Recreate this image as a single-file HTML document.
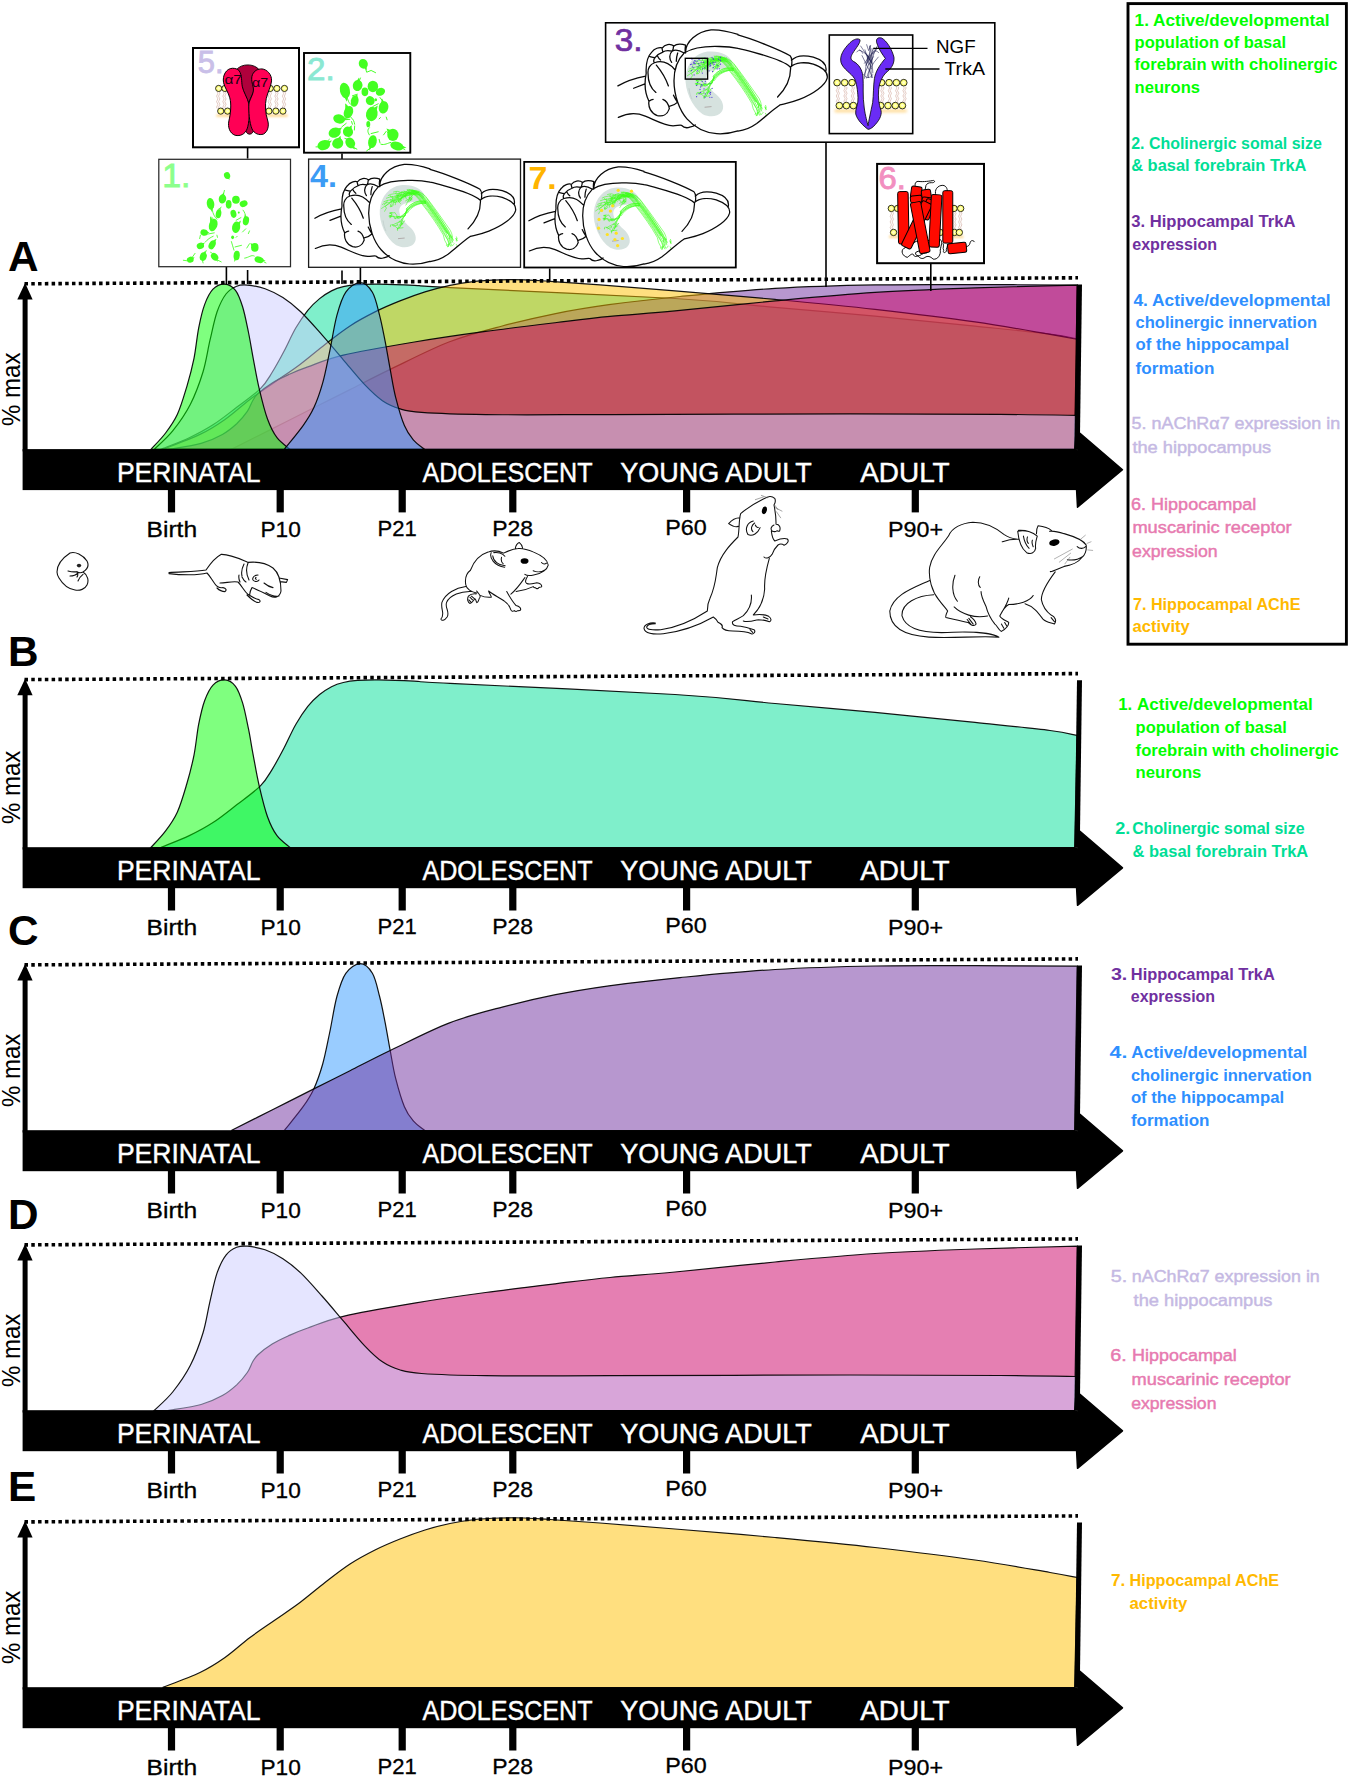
<!DOCTYPE html>
<html><head><meta charset="utf-8"><title>Cholinergic development timeline</title>
<style>html,body{margin:0;padding:0;background:#fff}svg{display:block}text{font-family:"Liberation Sans",sans-serif}</style></head><body>
<svg width="1350" height="1782" viewBox="0 0 1350 1782">
<rect width="1350" height="1782" fill="#fff"/>
<defs><path id="c1" d="M150.9,-0.0C153.3,-2.7 161.2,-10.5 165.6,-16.4C170.0,-22.2 173.8,-27.3 177.4,-35.1C181.0,-42.9 184.1,-53.8 186.9,-63.1C189.7,-72.5 192.0,-81.4 194.0,-91.1C196.0,-100.9 196.9,-112.6 198.7,-121.6C200.5,-130.6 202.3,-138.6 204.7,-145.0C207.1,-151.4 209.7,-156.8 213.0,-160.2C216.3,-163.6 221.1,-165.5 224.8,-165.3C228.6,-165.1 232.5,-162.8 235.5,-159.0C238.5,-155.2 240.4,-149.6 242.6,-142.6C244.8,-135.6 246.7,-125.5 248.5,-116.9C250.3,-108.3 251.4,-100.5 253.2,-91.1C255.0,-81.8 256.8,-70.9 259.2,-60.8C261.6,-50.6 264.5,-38.5 267.5,-30.4C270.5,-22.2 273.2,-16.8 277.0,-11.7C280.8,-6.7 287.8,-2.0 290.0,-0.0Z"/><path id="c2" d="M160.8,-0.0C165.6,-2.0 180.6,-7.6 189.3,-11.7C198.0,-15.8 205.1,-19.5 213.0,-24.6C220.9,-29.6 228.8,-36.1 236.7,-42.1C244.6,-48.1 254.5,-54.9 260.4,-60.8C266.3,-66.6 268.3,-70.9 272.2,-77.1C276.1,-83.4 280.1,-90.7 284.0,-98.1C287.9,-105.6 291.9,-114.8 295.9,-121.6C299.9,-128.4 303.9,-134.2 307.8,-139.1C311.8,-143.9 315.7,-147.6 319.6,-150.8C323.6,-154.0 327.6,-156.5 331.5,-158.5C335.4,-160.5 339.0,-161.7 343.3,-162.7C347.6,-163.8 351.6,-164.4 357.5,-164.8C363.4,-165.2 369.4,-165.4 378.9,-165.3C388.4,-165.2 402.5,-164.7 414.4,-164.1C426.2,-163.5 406.6,-164.0 450.0,-161.8C493.4,-159.6 620.8,-154.2 675.0,-150.9C729.2,-147.6 741.7,-145.0 775.0,-142.0C808.3,-139.1 841.7,-136.3 875.0,-133.2C908.3,-130.0 945.8,-126.3 975.0,-123.3C1004.2,-120.3 1033.0,-117.5 1050.0,-115.4C1067.0,-113.3 1072.7,-111.3 1077.2,-110.5L1074.6,0Z"/><path id="c3" d="M231.3,0.0C238.1,-3.4 258.2,-13.6 272.0,-20.5C285.8,-27.4 300.8,-35.1 313.8,-41.6C326.8,-48.1 337.3,-53.4 350.0,-59.8C362.7,-66.2 373.7,-72.1 390.2,-80.0C406.7,-87.9 430.2,-100.2 448.9,-107.4C467.6,-114.6 484.4,-118.7 502.2,-123.4C520.0,-128.1 537.8,-132.2 555.6,-135.8C573.4,-139.4 588.2,-141.8 608.9,-144.7C629.6,-147.5 652.3,-150.2 680.0,-152.9C707.7,-155.6 742.5,-159.1 775.0,-161.0C807.5,-162.9 841.7,-163.9 875.0,-164.5C908.3,-165.1 941.3,-164.8 975.0,-164.8C1008.7,-164.8 1060.2,-164.4 1077.2,-164.3L1074.6,0Z"/><path id="c4" d="M284.3,0.0C287.4,-4.0 298.2,-16.9 303.1,-23.8C308.0,-30.7 310.5,-34.5 313.8,-41.6C317.1,-48.7 320.0,-57.0 322.7,-66.5C325.4,-76.0 327.4,-87.2 329.8,-98.5C332.2,-109.8 334.2,-124.2 336.9,-134.0C339.6,-143.8 341.9,-151.7 345.8,-157.2C349.7,-162.7 355.6,-166.8 360.0,-166.8C364.4,-166.8 369.1,-162.7 372.4,-157.2C375.7,-151.7 377.5,-142.0 379.6,-134.0C381.7,-126.0 383.1,-118.2 384.9,-109.2C386.7,-100.2 388.4,-89.5 390.2,-80.0C392.0,-70.5 393.2,-61.7 395.6,-52.3C398.0,-42.9 401.4,-30.9 404.4,-23.8C407.3,-16.7 409.9,-13.6 413.3,-9.6C416.7,-5.6 422.8,-1.6 424.7,0.0Z"/><path id="c5" d="M154.2,0.0C157.3,-3.1 166.7,-11.0 172.7,-18.5C178.7,-26.0 185.4,-35.4 190.4,-45.2C195.4,-55.0 199.6,-66.5 202.9,-77.2C206.2,-87.9 207.6,-99.1 210.0,-109.2C212.4,-119.3 214.4,-129.9 217.1,-137.6C219.8,-145.3 222.7,-151.1 226.0,-155.4C229.3,-159.7 233.1,-161.7 236.7,-163.2C240.2,-164.7 242.6,-164.7 247.3,-164.3C252.0,-163.9 259.2,-162.8 265.1,-160.7C271.0,-158.6 277.0,-155.7 282.9,-151.8C288.8,-148.0 294.2,-143.8 300.7,-137.6C307.2,-131.4 314.9,-122.5 322.0,-114.5C329.1,-106.5 336.2,-97.9 343.3,-89.6C350.4,-81.3 358.2,-71.5 364.7,-64.7C371.2,-57.9 376.5,-52.7 382.4,-48.7C388.3,-44.7 393.7,-42.5 400.2,-40.5C406.7,-38.5 407.4,-38.0 421.6,-37.0C435.8,-36.0 454.2,-35.2 485.6,-34.8C517.0,-34.4 549.3,-34.7 610.0,-34.8C670.7,-34.9 785.0,-35.5 850.0,-35.5C915.0,-35.5 962.1,-35.2 1000.0,-35.0C1037.9,-34.8 1064.3,-34.2 1077.2,-34.0L1074.6,0Z"/><path id="c6" d="M168.0,0.0C173.5,-1.0 192.0,-3.5 201.1,-6.0C210.2,-8.5 216.5,-11.6 222.4,-14.9C228.3,-18.2 232.5,-21.8 236.7,-25.6C240.8,-29.5 244.6,-34.1 247.3,-38.0C250.0,-41.9 250.9,-45.7 252.7,-48.7C254.5,-51.7 254.8,-52.8 258.0,-55.8C261.2,-58.8 266.9,-63.2 272.2,-66.5C277.5,-69.8 284.1,-72.7 290.0,-75.4C295.9,-78.1 298.9,-79.4 307.8,-82.5C316.7,-85.6 325.5,-90.0 343.3,-94.2C361.1,-98.4 390.7,-103.4 414.4,-107.4C438.1,-111.4 461.9,-114.8 485.6,-118.0C509.3,-121.2 536.0,-124.4 556.7,-126.9C577.4,-129.4 590.3,-131.1 610.0,-133.0C629.7,-134.9 647.5,-135.9 675.0,-138.5C702.5,-141.1 741.7,-145.4 775.0,-148.5C808.3,-151.6 841.7,-154.8 875.0,-157.0C908.3,-159.2 941.3,-160.3 975.0,-161.5C1008.7,-162.7 1060.2,-163.8 1077.2,-164.3L1074.6,0Z"/><path id="c7" d="M162.5,0.0C168.8,-2.5 189.6,-10.0 200.0,-15.0C210.4,-20.0 216.7,-24.2 225.0,-30.0C233.3,-35.8 241.7,-43.8 250.0,-50.0C258.3,-56.2 266.7,-61.7 275.0,-67.5C283.3,-73.3 291.7,-78.8 300.0,-85.0C308.3,-91.2 316.7,-98.6 325.0,-105.0C333.3,-111.4 341.7,-118.1 350.0,-123.5C358.3,-128.9 366.7,-133.3 375.0,-137.5C383.3,-141.7 391.7,-145.2 400.0,-148.5C408.3,-151.8 416.7,-154.9 425.0,-157.5C433.3,-160.1 441.7,-162.2 450.0,-164.0C458.3,-165.8 466.7,-167.1 475.0,-168.0C483.3,-168.9 491.7,-169.2 500.0,-169.5C508.3,-169.8 516.7,-169.8 525.0,-169.5C533.3,-169.2 537.5,-168.8 550.0,-168.0C562.5,-167.2 579.2,-166.1 600.0,-164.5C620.8,-162.9 645.8,-160.9 675.0,-158.5C704.2,-156.1 741.7,-153.1 775.0,-150.0C808.3,-146.9 841.7,-143.8 875.0,-140.0C908.3,-136.2 945.8,-131.7 975.0,-127.5C1004.2,-123.3 1033.0,-117.9 1050.0,-115.0C1067.0,-112.1 1072.7,-110.8 1077.2,-110.0L1074.6,0Z"/></defs>
<defs><g id="brain"><path d="M1290,400 C1260,320 1150,270 1020,285 C900,300 800,400 785,560 C775,700 850,880 970,960 C1040,995 1130,990 1170,940 C1210,890 1190,810 1120,750 C1060,700 1010,640 1005,580 C1000,520 1040,490 1110,480 C1200,470 1280,470 1290,400 Z" fill="#d6e2df"/><path d="M990,885 L1065,878" stroke="#9a8a8a" stroke-width="7" fill="none"/><path d="M822,680 C828,730 840,770 855,800" stroke="#b8c4c2" stroke-width="6" fill="none"/><path d="M1150,345 C1210,350 1250,398 1296,462 C1382,572 1464,695 1542,815" stroke="#3dff1a" stroke-opacity="0.5" stroke-width="26" fill="none" stroke-linecap="round"/><path d="M1089,360 C1161,360 1219,425 1260,494 C1348,605 1433,726 1500,844 L1515,902 L1547,961 M1121,378 C1168,364 1223,419 1265,486 C1355,597 1443,720 1511,838 L1549,899 L1566,959 M1102,374 C1175,354 1226,419 1275,478 C1360,588 1445,710 1517,833 L1553,902 L1584,972 M1117,380 C1190,357 1232,411 1287,474 C1369,584 1449,708 1530,827 L1565,895 L1596,964 M1093,333 C1195,351 1238,399 1291,467 C1370,576 1454,700 1541,821 L1572,855 L1611,889 M1140,384 C1194,349 1244,392 1294,458 C1378,564 1469,690 1542,815 L1588,859 L1612,903 M1142,351 C1206,346 1256,393 1302,450 C1390,560 1470,690 1549,809 L1570,868 L1590,927 M1114,331 C1212,343 1257,383 1308,446 C1393,558 1481,674 1556,803 L1568,834 L1601,865 M1124,383 C1216,337 1266,374 1316,435 C1400,552 1480,673 1560,798 L1585,854 L1598,911 M1095,342 C1224,337 1270,367 1320,434 C1407,546 1488,664 1579,792 L1595,830 L1603,869 M1225,365 L1185,380 L1131,383 L1097,403 L1054,413 L1001,430 L970,448 L922,471 L882,493 L851,514 L805,545 M849,524 L858,539 L858,548 L848,560 L840,577 M904,498 L906,512 L908,514 L902,521 L917,520 M1196,369 L1153,387 L1118,399 L1077,402 L1042,425 L998,438 L972,451 L932,452 L892,479 L845,483 L815,500 M933,453 L929,457 L941,472 L934,472 L945,473 M945,448 L943,459 L951,465 L943,470 L946,481 M1212,361 L1177,372 L1140,380 L1104,382 L1068,399 L1023,405 L990,423 L959,427 L918,447 L868,455 L830,470 M907,444 L909,455 L912,460 L923,470 L920,487 M870,457 L865,471 L860,480 L849,486 L836,506 M1203,346 L1172,359 L1135,357 L1102,372 L1077,376 L1037,385 L1002,393 L962,403 L941,411 L901,416 L860,430 M927,410 L923,423 L931,430 L924,444 L922,452 M1001,387 L999,399 L997,409 L994,408 L985,415 M1172,361 L1136,379 L1112,384 L1083,401 L1061,410 L1029,428 L1008,439 L981,466 L952,474 L924,502 L905,520 M936,499 L935,513 L922,521 L917,522 L912,528 M1028,438 L1026,446 L1029,456 L1019,465 L1010,470 M1181,347 L1160,345 L1133,356 L1104,369 L1071,375 L1051,385 L1020,393 L1007,401 L976,402 L953,416 L930,430 M991,405 L989,410 L991,421 L987,438 L995,447 M982,408 L984,418 L980,423 L970,429 L966,435 M1176,354 L1158,365 L1135,374 L1111,374 L1091,382 L1080,404 L1049,409 L1030,432 L1013,448 L986,456 L960,480 M1017,442 L1020,456 L1018,457 L1005,466 L994,470 M1001,452 L993,465 L1003,471 L1008,480 L1018,489 M1115,368 L1110,358 L1097,363 L1074,357 L1065,352 L1057,367 L1041,368 L1034,359 L1023,370 L1011,377 L990,380 M1007,376 L1010,380 L1015,391 L1019,403 L1024,411 M1029,370 L1026,384 L1030,387 L1020,398 L1012,406 M1110,351 L1100,347 L1096,350 L1083,354 L1077,366 L1067,367 L1063,383 L1057,388 L1042,407 L1025,431 L1020,440 M1046,409 L1044,416 L1043,427 L1047,432 L1048,441 M1032,426 L1034,429 L1025,436 L1022,441 L1018,449 M1227,351 L1224,350 L1203,366 L1201,366 L1177,388 L1159,391 L1147,407 L1139,411 L1118,434 L1101,445 L1075,460 M1123,420 L1122,431 L1123,437 L1125,444 L1134,456 M1119,423 L1125,436 L1130,438 L1131,446 L1125,446 M1119,362 L1117,367 L1122,362 L1122,378 L1130,376 L1124,401 L1122,406 L1123,423 L1122,439 L1116,446 L1110,470 M1111,454 L1098,464 L1092,481 L1088,493 L1078,507 M1113,426 L1118,431 L1114,441 L1113,442 L1105,450 M1119,370 L1111,366 L1120,364 L1106,361 L1098,363 L1104,374 L1096,382 L1086,386 L1077,384 L1076,398 L1060,400 M1069,392 L1065,398 L1076,413 L1082,431 L1094,445 M1082,381 L1076,389 L1076,398 L1069,418 L1068,427 M1237,388 L1201,382 L1161,383 L1124,374 L1097,378 L1052,369 L1024,367 L978,379 L950,379 L907,387 L880,400 M901,398 L906,405 L907,414 L914,415 L925,419 M991,390 L991,403 L976,404 L973,421 L959,425 M1182,355 L1151,362 L1112,379 L1079,386 L1038,398 L1001,408 L976,438 L942,449 L908,471 L884,494 L850,520 M969,454 L970,459 L968,477 L963,487 L959,504 M1001,436 L1004,442 L1006,452 L995,469 L988,474 M1233,392 L1198,391 L1165,371 L1136,363 L1111,368 L1087,363 L1057,350 L1020,364 L988,353 L967,354 L940,360 M1056,365 L1063,377 L1054,382 L1051,397 L1029,416 M971,361 L965,377 L965,377 L973,386 L994,400 M1120,351 L1124,367 L1132,372 L1134,370 L1138,390 L1148,396 L1144,405 L1144,414 L1150,417 L1144,438 L1140,440 M1139,433 L1148,441 L1144,445 L1124,461 L1114,462 M1136,419 L1133,429 L1137,435 L1141,437 L1147,442 M1300,469 C1230,442 1148,476 1084,550 M1090,550 L1090,571 L1073,595 L1071,626 L1056,639 L1049,656 L1036,695 L1033,705 L1024,736 L1008,764 M1008,764 L1002,762 L1009,763 L1021,766 L1046,761 M1300,465 C1227,446 1133,484 1087,549 M1090,557 L1086,584 L1075,596 L1056,605 L1042,622 L1015,640 L989,634 L974,644 L934,633 L912,638 M912,638 L920,633 L915,621 L914,630 L889,631 M1300,464 C1217,459 1139,500 1095,561 M1090,564 L1079,578 L1073,598 L1067,630 L1050,645 L1031,675 L1030,700 L1006,732 L999,749 L982,774 M982,774 L997,772 L998,762 L985,774 L985,792 M1300,481 C1232,460 1147,499 1085,566 M1090,571 L1085,582 L1067,603 L1053,614 L1044,632 L1034,629 L1022,639 L1017,638 L1009,636 L995,638 M995,638 L986,637 L987,653 L982,650 L985,647 M1300,485 C1233,471 1148,508 1085,581 M1090,578 L1081,603 L1069,613 L1065,624 L1046,636 L1039,636 L1012,650 L1006,642 L997,651 L974,639 M974,639 L978,641 L980,630 L973,618 L953,590 M1300,488 C1220,478 1135,514 1091,579 M1090,585 L1073,595 L1068,625 L1061,630 L1039,632 L1022,644 L1019,646 L1002,656 L976,653 L959,656 M959,656 L962,661 L947,653 L947,637 L929,630 M1300,483 C1228,483 1140,520 1096,596 M1090,592 L1076,611 L1070,625 L1047,638 L1042,655 L1026,676 L1010,698 L985,704 L950,721 L933,733 M933,733 L923,728 L938,733 L947,738 L981,765 M919,591 L907,600 L897,596 L906,595 L896,599 L907,595 M913,726 L910,738 L906,735 L906,737 L904,748 L907,750 M946,594 L937,594 L931,592 L919,592 L908,605 L912,608 M1057,689 L1066,684 L1054,696 L1042,714 L1032,715 L1016,744 M1019,738 L1024,723 L1036,716 L1045,713 L1047,717 L1038,727 M988,721 L978,717 L984,735 L970,736 L960,737 L942,745 M900,642 L908,644 L906,628 L903,622 L899,629 L897,626 M927,607 L918,601 L917,618 L906,626 L900,630 L900,651 M1001,699 L1005,687 L1011,691 L1022,696 L1019,701 L1030,705 M1648,865 l7,21 l-9,16 M1644,882 l9,21 l-2,10 M1560,941 l-2,12 l-1,21 M1564,852 l11,12 l-3,22 M1567,859 l9,11 l-7,21 M1561,949 l-4,12 l-7,16 M1599,894 l0,12 l8,21 M1622,940 l-10,12 l-7,10 M1646,950 l10,16 l-9,14 M1541,950 l-6,12 l11,11 M1641,884 l4,9 l10,14 M1575,922 l2,12 l-9,16" fill="none" stroke="#3dff1a" stroke-width="6.5" stroke-linecap="round" stroke-linejoin="round"/><path d="M785,285 C790,180 900,70 1060,50 C1160,45 1260,70 1350,100 M770,300 C850,250 1000,225 1150,230 C1230,232 1300,240 1350,250 M770,300 C700,370 660,480 660,600 C660,760 720,920 800,1010 C880,1100 1000,1160 1120,1170 C1200,1175 1290,1160 1350,1140 M360,520 C355,420 370,340 420,290 C450,250 500,235 535,245 C560,205 620,195 660,225 C690,195 750,200 785,215 C780,250 775,280 785,300 M400,340 C420,345 440,350 455,350 M455,350 C440,370 440,390 445,400 M455,350 C480,320 510,300 540,290 M480,330 C490,350 500,365 515,375 M540,290 C560,275 600,270 640,280 M640,280 C610,310 605,360 635,400 M640,280 C670,260 720,270 770,300 M700,300 C690,330 685,360 685,390 M530,250 C535,265 538,280 540,290 M655,228 C655,245 650,265 640,280 M380,520 C375,470 400,420 450,405 C520,380 600,400 670,480 M360,520 C340,620 350,740 390,820 M380,520 C380,600 410,680 465,725 M470,430 C520,490 570,570 600,655 M390,820 C380,880 410,950 480,975 C540,990 590,960 610,900 C600,850 570,810 540,800 M390,820 C410,805 425,800 435,800 M610,875 C640,870 680,850 700,830 M655,755 C670,790 690,820 700,835 M55,655 C150,600 250,570 355,550 M225,680 L340,635 M60,995 C150,950 250,940 350,980 C450,1020 550,1080 650,1085 C690,1085 720,1075 740,1080 C760,1100 790,1115 830,1100 C860,1095 880,1085 890,1075 M 1349.5 105 C 1512.5 150 1812.5 270 1912.5 330 C 1932.5 350 1937.5 380 1927.5 440 M 1349.5 250 C 1412.5 262 1462.5 276 1512.5 290 C 1712.5 345 1862.5 400 1912.5 450 M 1917.5 450 C 1922.5 560 1872.5 680 1777.5 775 M 1927.5 380 C 1972.5 330 2062.5 320 2162.5 345 C 2262.5 375 2312.5 430 2297.5 500 M 1917.5 450 C 1972.5 400 2072.5 395 2162.5 420 C 2262.5 455 2322.5 510 2312.5 570 C 2292.5 650 2162.5 740 2012.5 800 C 1912.5 840 1832.5 850 1802.5 860 M 1802.5 860 C 1712.5 920 1632.5 1000 1552.5 1060 C 1482.5 1110 1412.5 1135 1350 1142" fill="none" stroke="#0a0a0a" stroke-width="14" stroke-linecap="round" stroke-linejoin="round"/></g><filter id="blur5" x="-20%" y="-100%" width="140%" height="300%"><feGaussianBlur stdDeviation="12"/></filter></defs>
<g transform="translate(0,449.4) scale(1,1.000)">
<use href="#c2" fill="#00e098" fill-opacity="0.5" stroke="#000" stroke-opacity="0.92" stroke-width="1.2"/>
<use href="#c3" fill="#7030a0" fill-opacity="0.5" stroke="#000" stroke-opacity="0.92" stroke-width="1.2"/>
<use href="#c7" fill="#ffc000" fill-opacity="0.5" stroke="#000" stroke-opacity="0.92" stroke-width="1.2"/>
<use href="#c6" fill="#cc0066" fill-opacity="0.5" stroke="#000" stroke-opacity="0.92" stroke-width="1.2"/>
<use href="#c5" fill="#ccccff" fill-opacity="0.5" stroke="#000" stroke-opacity="0.92" stroke-width="1.2"/>
<use href="#c1" fill="#00ff00" fill-opacity="0.5" stroke="#000" stroke-opacity="0.92" stroke-width="1.2"/>
<use href="#c4" fill="#3399ff" fill-opacity="0.5" stroke="#000" stroke-opacity="0.92" stroke-width="1.2"/>
</g>
<polygon points="1077,284.4 1082,284.4 1079.8,449.4 1074.6,449.4" fill="#000"/>
<line x1="24.5" y1="283.8" x2="1078" y2="277.8" stroke="#000" stroke-width="3.6" stroke-dasharray="3.5 3.28"/>
<rect x="22.6" y="295.4" width="5" height="156.0" fill="#000"/>
<polygon points="25.1,282.9 17.3,299.4 32.6,299.4" fill="#000"/>
<rect x="22.6" y="449.1" width="1055" height="41" fill="#000"/>
<path d="M1075.5,469.4 L1080,433.2 L1122.5,469.7 L1077.5,507.2 Z" fill="#000" stroke="#000" stroke-width="1.5" stroke-linejoin="round"/>
<rect x="167.9" y="488.4" width="7.2" height="24" fill="#000"/>
<rect x="276.6" y="488.4" width="7.2" height="24" fill="#000"/>
<rect x="398.6" y="488.4" width="7.2" height="24" fill="#000"/>
<rect x="509.2" y="488.4" width="7.2" height="24" fill="#000"/>
<rect x="683.0" y="488.4" width="7.2" height="24" fill="#000"/>
<rect x="911.7" y="488.4" width="7.2" height="24" fill="#000"/>
<g fill="#fff" stroke="#fff" stroke-width="0.45">
<text x="116.9" y="482.2" font-size="28.00" textLength="143.5" lengthAdjust="spacingAndGlyphs">PERINATAL</text>
<text x="422.4" y="482.2" font-size="28.00" textLength="170.1" lengthAdjust="spacingAndGlyphs">ADOLESCENT</text>
<text x="620.2" y="482.2" font-size="28.00" textLength="191.5" lengthAdjust="spacingAndGlyphs">YOUNG ADULT</text>
<text x="860.2" y="482.2" font-size="28.00" textLength="89.5" lengthAdjust="spacingAndGlyphs">ADULT</text>
</g>
<g fill="#000" stroke="#000" stroke-width="0.3">
<text x="146.5" y="537.0" font-size="21.60" textLength="50.6" lengthAdjust="spacingAndGlyphs">Birth</text>
<text x="260.5" y="537.0" font-size="21.60" textLength="40.3" lengthAdjust="spacingAndGlyphs">P10</text>
<text x="377.5" y="535.9" font-size="21.60" textLength="39.2" lengthAdjust="spacingAndGlyphs">P21</text>
<text x="492.2" y="535.9" font-size="21.60" textLength="40.9" lengthAdjust="spacingAndGlyphs">P28</text>
<text x="665.3" y="534.6" font-size="21.60" textLength="41.5" lengthAdjust="spacingAndGlyphs">P60</text>
<text x="888.1" y="537.3" font-size="21.60" textLength="55.0" lengthAdjust="spacingAndGlyphs">P90+</text>
</g>
<text x="7.9" y="271.2" font-size="42.30" font-weight="bold" fill="#000">A</text>
<text transform="translate(20.3,426.0) rotate(-90)" font-size="26.5" textLength="73.4" lengthAdjust="spacingAndGlyphs">% max</text>
<g transform="translate(0,847.5) scale(1,1.014)">
<use href="#c2" fill="#00e098" fill-opacity="0.5" stroke="#000" stroke-opacity="0.92" stroke-width="1.2"/>
<use href="#c1" fill="#00ff00" fill-opacity="0.5" stroke="#000" stroke-opacity="0.92" stroke-width="1.2"/>
</g>
<polygon points="1077,680.2 1082,680.2 1079.8,847.5 1074.6,847.5" fill="#000"/>
<line x1="24.5" y1="679.6" x2="1078" y2="673.6" stroke="#000" stroke-width="3.6" stroke-dasharray="3.5 3.28"/>
<rect x="22.6" y="691.2" width="5" height="158.3" fill="#000"/>
<polygon points="25.1,678.7 17.3,695.2 32.6,695.2" fill="#000"/>
<rect x="22.6" y="847.2" width="1055" height="41" fill="#000"/>
<path d="M1075.5,867.5 L1080,831.3 L1122.5,867.8 L1077.5,905.3 Z" fill="#000" stroke="#000" stroke-width="1.5" stroke-linejoin="round"/>
<rect x="167.9" y="886.5" width="7.2" height="24" fill="#000"/>
<rect x="276.6" y="886.5" width="7.2" height="24" fill="#000"/>
<rect x="398.6" y="886.5" width="7.2" height="24" fill="#000"/>
<rect x="509.2" y="886.5" width="7.2" height="24" fill="#000"/>
<rect x="683.0" y="886.5" width="7.2" height="24" fill="#000"/>
<rect x="911.7" y="886.5" width="7.2" height="24" fill="#000"/>
<g fill="#fff" stroke="#fff" stroke-width="0.45">
<text x="116.9" y="880.3" font-size="28.00" textLength="143.5" lengthAdjust="spacingAndGlyphs">PERINATAL</text>
<text x="422.4" y="880.3" font-size="28.00" textLength="170.1" lengthAdjust="spacingAndGlyphs">ADOLESCENT</text>
<text x="620.2" y="880.3" font-size="28.00" textLength="191.5" lengthAdjust="spacingAndGlyphs">YOUNG ADULT</text>
<text x="860.2" y="880.3" font-size="28.00" textLength="89.5" lengthAdjust="spacingAndGlyphs">ADULT</text>
</g>
<g fill="#000" stroke="#000" stroke-width="0.3">
<text x="146.5" y="935.1" font-size="21.60" textLength="50.6" lengthAdjust="spacingAndGlyphs">Birth</text>
<text x="260.5" y="935.1" font-size="21.60" textLength="40.3" lengthAdjust="spacingAndGlyphs">P10</text>
<text x="377.5" y="934.0" font-size="21.60" textLength="39.2" lengthAdjust="spacingAndGlyphs">P21</text>
<text x="492.2" y="934.0" font-size="21.60" textLength="40.9" lengthAdjust="spacingAndGlyphs">P28</text>
<text x="665.3" y="932.7" font-size="21.60" textLength="41.5" lengthAdjust="spacingAndGlyphs">P60</text>
<text x="888.1" y="935.4" font-size="21.60" textLength="55.0" lengthAdjust="spacingAndGlyphs">P90+</text>
</g>
<text x="7.9" y="666.4" font-size="42.30" font-weight="bold" fill="#000">B</text>
<text transform="translate(20.3,824.1) rotate(-90)" font-size="26.5" textLength="73.4" lengthAdjust="spacingAndGlyphs">% max</text>
<g transform="translate(0,1130.5) scale(1,1.000)">
<use href="#c4" fill="#3399ff" fill-opacity="0.5" stroke="#000" stroke-opacity="0.92" stroke-width="1.2"/>
<use href="#c3" fill="#7030a0" fill-opacity="0.5" stroke="#000" stroke-opacity="0.92" stroke-width="1.2"/>
</g>
<polygon points="1077,965.5 1082,965.5 1079.8,1130.5 1074.6,1130.5" fill="#000"/>
<line x1="24.5" y1="964.9" x2="1078" y2="958.9" stroke="#000" stroke-width="3.6" stroke-dasharray="3.5 3.28"/>
<rect x="22.6" y="976.5" width="5" height="156.0" fill="#000"/>
<polygon points="25.1,964.0 17.3,980.5 32.6,980.5" fill="#000"/>
<rect x="22.6" y="1130.2" width="1055" height="41" fill="#000"/>
<path d="M1075.5,1150.5 L1080,1114.3 L1122.5,1150.8 L1077.5,1188.3 Z" fill="#000" stroke="#000" stroke-width="1.5" stroke-linejoin="round"/>
<rect x="167.9" y="1169.5" width="7.2" height="24" fill="#000"/>
<rect x="276.6" y="1169.5" width="7.2" height="24" fill="#000"/>
<rect x="398.6" y="1169.5" width="7.2" height="24" fill="#000"/>
<rect x="509.2" y="1169.5" width="7.2" height="24" fill="#000"/>
<rect x="683.0" y="1169.5" width="7.2" height="24" fill="#000"/>
<rect x="911.7" y="1169.5" width="7.2" height="24" fill="#000"/>
<g fill="#fff" stroke="#fff" stroke-width="0.45">
<text x="116.9" y="1163.3" font-size="28.00" textLength="143.5" lengthAdjust="spacingAndGlyphs">PERINATAL</text>
<text x="422.4" y="1163.3" font-size="28.00" textLength="170.1" lengthAdjust="spacingAndGlyphs">ADOLESCENT</text>
<text x="620.2" y="1163.3" font-size="28.00" textLength="191.5" lengthAdjust="spacingAndGlyphs">YOUNG ADULT</text>
<text x="860.2" y="1163.3" font-size="28.00" textLength="89.5" lengthAdjust="spacingAndGlyphs">ADULT</text>
</g>
<g fill="#000" stroke="#000" stroke-width="0.3">
<text x="146.5" y="1218.1" font-size="21.60" textLength="50.6" lengthAdjust="spacingAndGlyphs">Birth</text>
<text x="260.5" y="1218.1" font-size="21.60" textLength="40.3" lengthAdjust="spacingAndGlyphs">P10</text>
<text x="377.5" y="1217.0" font-size="21.60" textLength="39.2" lengthAdjust="spacingAndGlyphs">P21</text>
<text x="492.2" y="1217.0" font-size="21.60" textLength="40.9" lengthAdjust="spacingAndGlyphs">P28</text>
<text x="665.3" y="1215.7" font-size="21.60" textLength="41.5" lengthAdjust="spacingAndGlyphs">P60</text>
<text x="888.1" y="1218.4" font-size="21.60" textLength="55.0" lengthAdjust="spacingAndGlyphs">P90+</text>
</g>
<text x="7.9" y="944.6" font-size="42.30" font-weight="bold" fill="#000">C</text>
<text transform="translate(20.3,1107.1) rotate(-90)" font-size="26.5" textLength="73.4" lengthAdjust="spacingAndGlyphs">% max</text>
<g transform="translate(0,1410.5) scale(1,1.000)">
<use href="#c6" fill="#cc0066" fill-opacity="0.5" stroke="#000" stroke-opacity="0.92" stroke-width="1.2"/>
<use href="#c5" fill="#ccccff" fill-opacity="0.5" stroke="#000" stroke-opacity="0.92" stroke-width="1.2"/>
</g>
<polygon points="1077,1245.5 1082,1245.5 1079.8,1410.5 1074.6,1410.5" fill="#000"/>
<line x1="24.5" y1="1244.9" x2="1078" y2="1238.9" stroke="#000" stroke-width="3.6" stroke-dasharray="3.5 3.28"/>
<rect x="22.6" y="1256.5" width="5" height="156.0" fill="#000"/>
<polygon points="25.1,1244.0 17.3,1260.5 32.6,1260.5" fill="#000"/>
<rect x="22.6" y="1410.2" width="1055" height="41" fill="#000"/>
<path d="M1075.5,1430.5 L1080,1394.3 L1122.5,1430.8 L1077.5,1468.3 Z" fill="#000" stroke="#000" stroke-width="1.5" stroke-linejoin="round"/>
<rect x="167.9" y="1449.5" width="7.2" height="24" fill="#000"/>
<rect x="276.6" y="1449.5" width="7.2" height="24" fill="#000"/>
<rect x="398.6" y="1449.5" width="7.2" height="24" fill="#000"/>
<rect x="509.2" y="1449.5" width="7.2" height="24" fill="#000"/>
<rect x="683.0" y="1449.5" width="7.2" height="24" fill="#000"/>
<rect x="911.7" y="1449.5" width="7.2" height="24" fill="#000"/>
<g fill="#fff" stroke="#fff" stroke-width="0.45">
<text x="116.9" y="1443.3" font-size="28.00" textLength="143.5" lengthAdjust="spacingAndGlyphs">PERINATAL</text>
<text x="422.4" y="1443.3" font-size="28.00" textLength="170.1" lengthAdjust="spacingAndGlyphs">ADOLESCENT</text>
<text x="620.2" y="1443.3" font-size="28.00" textLength="191.5" lengthAdjust="spacingAndGlyphs">YOUNG ADULT</text>
<text x="860.2" y="1443.3" font-size="28.00" textLength="89.5" lengthAdjust="spacingAndGlyphs">ADULT</text>
</g>
<g fill="#000" stroke="#000" stroke-width="0.3">
<text x="146.5" y="1498.1" font-size="21.60" textLength="50.6" lengthAdjust="spacingAndGlyphs">Birth</text>
<text x="260.5" y="1498.1" font-size="21.60" textLength="40.3" lengthAdjust="spacingAndGlyphs">P10</text>
<text x="377.5" y="1497.0" font-size="21.60" textLength="39.2" lengthAdjust="spacingAndGlyphs">P21</text>
<text x="492.2" y="1497.0" font-size="21.60" textLength="40.9" lengthAdjust="spacingAndGlyphs">P28</text>
<text x="665.3" y="1495.7" font-size="21.60" textLength="41.5" lengthAdjust="spacingAndGlyphs">P60</text>
<text x="888.1" y="1498.4" font-size="21.60" textLength="55.0" lengthAdjust="spacingAndGlyphs">P90+</text>
</g>
<text x="7.9" y="1229.1" font-size="42.30" font-weight="bold" fill="#000">D</text>
<text transform="translate(20.3,1387.1) rotate(-90)" font-size="26.5" textLength="73.4" lengthAdjust="spacingAndGlyphs">% max</text>
<g transform="translate(0,1687.5) scale(1,1.000)">
<use href="#c7" fill="#ffc000" fill-opacity="0.5" stroke="#000" stroke-opacity="0.92" stroke-width="1.2"/>
</g>
<polygon points="1077,1522.5 1082,1522.5 1079.8,1687.5 1074.6,1687.5" fill="#000"/>
<line x1="24.5" y1="1521.9" x2="1078" y2="1515.9" stroke="#000" stroke-width="3.6" stroke-dasharray="3.5 3.28"/>
<rect x="22.6" y="1533.5" width="5" height="156.0" fill="#000"/>
<polygon points="25.1,1521.0 17.3,1537.5 32.6,1537.5" fill="#000"/>
<rect x="22.6" y="1687.2" width="1055" height="41" fill="#000"/>
<path d="M1075.5,1707.5 L1080,1671.3 L1122.5,1707.8 L1077.5,1745.3 Z" fill="#000" stroke="#000" stroke-width="1.5" stroke-linejoin="round"/>
<rect x="167.9" y="1726.5" width="7.2" height="24" fill="#000"/>
<rect x="276.6" y="1726.5" width="7.2" height="24" fill="#000"/>
<rect x="398.6" y="1726.5" width="7.2" height="24" fill="#000"/>
<rect x="509.2" y="1726.5" width="7.2" height="24" fill="#000"/>
<rect x="683.0" y="1726.5" width="7.2" height="24" fill="#000"/>
<rect x="911.7" y="1726.5" width="7.2" height="24" fill="#000"/>
<g fill="#fff" stroke="#fff" stroke-width="0.45">
<text x="116.9" y="1720.3" font-size="28.00" textLength="143.5" lengthAdjust="spacingAndGlyphs">PERINATAL</text>
<text x="422.4" y="1720.3" font-size="28.00" textLength="170.1" lengthAdjust="spacingAndGlyphs">ADOLESCENT</text>
<text x="620.2" y="1720.3" font-size="28.00" textLength="191.5" lengthAdjust="spacingAndGlyphs">YOUNG ADULT</text>
<text x="860.2" y="1720.3" font-size="28.00" textLength="89.5" lengthAdjust="spacingAndGlyphs">ADULT</text>
</g>
<g fill="#000" stroke="#000" stroke-width="0.3">
<text x="146.5" y="1775.1" font-size="21.60" textLength="50.6" lengthAdjust="spacingAndGlyphs">Birth</text>
<text x="260.5" y="1775.1" font-size="21.60" textLength="40.3" lengthAdjust="spacingAndGlyphs">P10</text>
<text x="377.5" y="1774.0" font-size="21.60" textLength="39.2" lengthAdjust="spacingAndGlyphs">P21</text>
<text x="492.2" y="1774.0" font-size="21.60" textLength="40.9" lengthAdjust="spacingAndGlyphs">P28</text>
<text x="665.3" y="1772.7" font-size="21.60" textLength="41.5" lengthAdjust="spacingAndGlyphs">P60</text>
<text x="888.1" y="1775.4" font-size="21.60" textLength="55.0" lengthAdjust="spacingAndGlyphs">P90+</text>
</g>
<text x="7.9" y="1501.0" font-size="42.30" font-weight="bold" fill="#000">E</text>
<text transform="translate(20.3,1664.1) rotate(-90)" font-size="26.5" textLength="73.4" lengthAdjust="spacingAndGlyphs">% max</text>
<line x1="247.6" y1="148" x2="247.6" y2="158.6" stroke="#000" stroke-width="1.6"/><line x1="247.6" y1="270" x2="247.6" y2="284" stroke="#000" stroke-width="1.6"/><line x1="226.4" y1="267" x2="226.4" y2="284.5" stroke="#000" stroke-width="1.6"/><line x1="342" y1="153.5" x2="342" y2="159" stroke="#000" stroke-width="1.6"/><line x1="342" y1="270.5" x2="342" y2="284" stroke="#000" stroke-width="1.6"/><line x1="360.4" y1="267.5" x2="360.4" y2="284" stroke="#000" stroke-width="1.6"/><line x1="549.7" y1="268.5" x2="549.7" y2="281" stroke="#000" stroke-width="1.6"/><line x1="826" y1="142.5" x2="826" y2="287" stroke="#000" stroke-width="1.6"/><line x1="930.8" y1="264" x2="930.8" y2="291" stroke="#000" stroke-width="1.6"/>
<g transform="translate(188,40) scale(0.08889)" ><rect x="320" y="835" width="175" height="30" fill="#ffd27a" opacity="0.8" filter="url(#blur5)"/><rect x="870" y="835" width="250" height="30" fill="#ffd27a" opacity="0.8" filter="url(#blur5)"/><path d="M329,585q14,15 0,31q-14,15 0,31q14,15 0,31q-14,15 0,31q14,15 0,31q-14,15 0,31M351,585q14,15 0,31q-14,15 0,31q14,15 0,31q-14,15 0,31q14,15 0,31q-14,15 0,31" fill="none" stroke="#cfa498" stroke-width="6.75"/><path d="M399,585q14,15 0,31q-14,15 0,31q14,15 0,31q-14,15 0,31q14,15 0,31q-14,15 0,31M421,585q14,15 0,31q-14,15 0,31q14,15 0,31q-14,15 0,31q14,15 0,31q-14,15 0,31" fill="none" stroke="#cfa498" stroke-width="6.75"/><path d="M909,585q14,15 0,31q-14,15 0,31q14,15 0,31q-14,15 0,31q14,15 0,31q-14,15 0,31M931,585q14,15 0,31q-14,15 0,31q14,15 0,31q-14,15 0,31q14,15 0,31q-14,15 0,31" fill="none" stroke="#cfa498" stroke-width="6.75"/><path d="M984,585q14,15 0,31q-14,15 0,31q14,15 0,31q-14,15 0,31q14,15 0,31q-14,15 0,31M1006,585q14,15 0,31q-14,15 0,31q14,15 0,31q-14,15 0,31q14,15 0,31q-14,15 0,31" fill="none" stroke="#cfa498" stroke-width="6.75"/><path d="M1069,585q14,15 0,31q-14,15 0,31q14,15 0,31q-14,15 0,31q14,15 0,31q-14,15 0,31M1091,585q14,15 0,31q-14,15 0,31q14,15 0,31q-14,15 0,31q14,15 0,31q-14,15 0,31" fill="none" stroke="#cfa498" stroke-width="6.75"/><circle cx="345" cy="545" r="35" fill="#ffff7a" stroke="#000" stroke-width="9"/><circle cx="345" cy="545" r="15.8" fill="#ffffc8"/><circle cx="415" cy="545" r="35" fill="#ffff7a" stroke="#000" stroke-width="9"/><circle cx="415" cy="545" r="15.8" fill="#ffffc8"/><circle cx="925" cy="545" r="35" fill="#ffff7a" stroke="#000" stroke-width="9"/><circle cx="925" cy="545" r="15.8" fill="#ffffc8"/><circle cx="1000" cy="545" r="35" fill="#ffff7a" stroke="#000" stroke-width="9"/><circle cx="1000" cy="545" r="15.8" fill="#ffffc8"/><circle cx="1085" cy="545" r="35" fill="#ffff7a" stroke="#000" stroke-width="9"/><circle cx="1085" cy="545" r="15.8" fill="#ffffc8"/><circle cx="368" cy="800" r="35" fill="#ffff7a" stroke="#000" stroke-width="9"/><circle cx="368" cy="800" r="15.8" fill="#ffffc8"/><circle cx="445" cy="800" r="35" fill="#ffff7a" stroke="#000" stroke-width="9"/><circle cx="445" cy="800" r="15.8" fill="#ffffc8"/><circle cx="910" cy="800" r="35" fill="#ffff7a" stroke="#000" stroke-width="9"/><circle cx="910" cy="800" r="15.8" fill="#ffffc8"/><circle cx="988" cy="800" r="35" fill="#ffff7a" stroke="#000" stroke-width="9"/><circle cx="988" cy="800" r="15.8" fill="#ffffc8"/><circle cx="1068" cy="800" r="35" fill="#ffff7a" stroke="#000" stroke-width="9"/><circle cx="1068" cy="800" r="15.8" fill="#ffffc8"/><path d="M545,335 C600,262 745,262 800,335 L745,570 L680,705 L615,560 Z" fill="#b0003c" stroke="#000" stroke-width="10" stroke-linejoin="round"/><ellipse cx="693" cy="985" rx="52" ry="75" fill="#b0003c" stroke="#000" stroke-width="10"/><path d="M500,318 C430,320 385,400 400,480 C410,530 455,590 470,650 C490,720 480,830 460,910 C445,980 470,1050 530,1072 C590,1085 640,1060 665,1000 C690,930 695,800 685,720 C670,650 620,580 610,520 C600,460 610,400 575,345 C555,325 530,318 500,318 Z" fill="#ff0055" stroke="#000" stroke-width="11" stroke-linejoin="round"/><path d="M830,325 C890,330 945,390 940,460 C935,520 895,590 880,660 C865,720 870,830 895,900 C915,960 900,1030 850,1058 C800,1075 745,1055 720,1000 C690,930 680,800 685,720 C695,660 745,600 735,540 C725,490 705,440 725,390 C745,345 785,325 830,325 Z" fill="#ff0055" stroke="#000" stroke-width="11" stroke-linejoin="round"/></g><text x="224.4" y="83.8" font-size="12.50" textLength="17.5" lengthAdjust="spacingAndGlyphs" fill="#200010">α7</text><text x="252.0" y="87.0" font-size="12.50" textLength="16.2" lengthAdjust="spacingAndGlyphs" fill="#200010">α7</text><rect x="193" y="48" width="106" height="99.3" fill="none" stroke="#000" stroke-width="2"/><text x="197.8" y="73.4" font-size="31.70" textLength="25.8" lengthAdjust="spacingAndGlyphs" fill="#c9bfe8" stroke="#c9bfe8" stroke-width="0.9">5.</text>
<g transform="translate(300,46) scale(0.08889)" ><g fill="#44ff22"><ellipse cx="712" cy="200" rx="50" ry="56" transform="rotate(-25 712 200)"/><path d="M-40,0 Q-14,-49 0,-81 Q14,-49 40,0 Z" transform="translate(712 200) rotate(150)"/><ellipse cx="505" cy="500" rx="56" ry="89" transform="rotate(-12 505 500)"/><path d="M-45,0 Q-16,-77 0,-128 Q16,-77 45,0 Z" transform="translate(505 500) rotate(170)"/><ellipse cx="648" cy="445" rx="54" ry="63" transform="rotate(15 648 445)"/><path d="M-43,0 Q-15,-54 0,-91 Q15,-54 43,0 Z" transform="translate(648 445) rotate(10)"/><ellipse cx="820" cy="455" rx="59" ry="65" transform="rotate(0 820 455)"/><ellipse cx="905" cy="515" rx="54" ry="43" transform="rotate(-25 905 515)"/><ellipse cx="730" cy="515" rx="38" ry="49" transform="rotate(0 730 515)"/><ellipse cx="615" cy="620" rx="43" ry="65" transform="rotate(12 615 620)"/><path d="M-35,0 Q-12,-56 0,-94 Q12,-56 35,0 Z" transform="translate(615 620) rotate(20)"/><ellipse cx="790" cy="615" rx="49" ry="52" transform="rotate(-35 790 615)"/><ellipse cx="852" cy="605" rx="15" ry="17" transform="rotate(0 852 605)"/><ellipse cx="940" cy="690" rx="54" ry="70" transform="rotate(12 940 690)"/><path d="M-43,0 Q-15,-61 0,-102 Q15,-61 43,0 Z" transform="translate(940 690) rotate(-10)"/><ellipse cx="545" cy="745" rx="50" ry="73" transform="rotate(22 545 745)"/><path d="M-40,0 Q-14,-64 0,-106 Q14,-64 40,0 Z" transform="translate(545 745) rotate(-20)"/><ellipse cx="808" cy="765" rx="65" ry="81" transform="rotate(12 808 765)"/><path d="M-52,0 Q-18,-70 0,-117 Q18,-70 52,0 Z" transform="translate(808 765) rotate(35)"/><ellipse cx="440" cy="820" rx="67" ry="52" transform="rotate(15 440 820)"/><path d="M-41,0 Q-15,-58 0,-97 Q15,-58 41,0 Z" transform="translate(440 820) rotate(90)"/><ellipse cx="768" cy="880" rx="22" ry="35" transform="rotate(0 768 880)"/><ellipse cx="390" cy="975" rx="70" ry="56" transform="rotate(-22 390 975)"/><path d="M-45,0 Q-16,-61 0,-102 Q16,-61 45,0 Z" transform="translate(390 975) rotate(55)"/><ellipse cx="540" cy="965" rx="56" ry="59" transform="rotate(-35 540 965)"/><path d="M-45,0 Q-16,-52 0,-86 Q16,-52 45,0 Z" transform="translate(540 965) rotate(30)"/><ellipse cx="1045" cy="1000" rx="63" ry="70" transform="rotate(0 1045 1000)"/><path d="M-50,0 Q-18,-61 0,-102 Q18,-61 50,0 Z" transform="translate(1045 1000) rotate(-45)"/><ellipse cx="268" cy="1115" rx="73" ry="56" transform="rotate(-18 268 1115)"/><path d="M-45,0 Q-16,-64 0,-106 Q16,-64 45,0 Z" transform="translate(268 1115) rotate(60)"/><ellipse cx="425" cy="1095" rx="63" ry="59" transform="rotate(-22 425 1095)"/><path d="M-48,0 Q-17,-54 0,-91 Q17,-54 48,0 Z" transform="translate(425 1095) rotate(20)"/><ellipse cx="565" cy="1090" rx="52" ry="63" transform="rotate(-32 565 1090)"/><path d="M-41,0 Q-15,-54 0,-91 Q15,-54 41,0 Z" transform="translate(565 1090) rotate(145)"/><ellipse cx="815" cy="1075" rx="48" ry="73" transform="rotate(12 815 1075)"/><path d="M-38,0 Q-13,-64 0,-106 Q13,-64 38,0 Z" transform="translate(815 1075) rotate(200)"/><ellipse cx="1090" cy="1125" rx="76" ry="48" transform="rotate(18 1090 1125)"/><path d="M-38,0 Q-13,-66 0,-110 Q13,-66 38,0 Z" transform="translate(1090 1125) rotate(100)"/></g><path d="M735,245 L750,295 L800,275 L850,300 M665,395 L680,360 M530,570 C540,630 560,650 585,670 M590,560 L635,545 M520,660 L545,690 M820,680 L880,650 M900,580 L930,620 M500,830 L560,825 M570,800 C600,820 610,850 615,880 M520,870 L470,910 M580,850 L590,880 M615,900 L612,945 M780,920 C760,940 755,960 780,1000 M800,985 L880,965 M970,960 L940,1000 M890,1050 L900,1090 M910,1105 C950,1120 990,1090 1020,1085 M815,1130 L750,1180 M455,1040 L470,1070 M330,1050 L300,1080 M505,1040 L540,1050 M600,1140 L640,1160 M1150,1150 L1180,1165 M180,1135 L215,1135 M970,800 L980,830 M890,820 L905,805 M1000,950 L985,975" fill="none" stroke="#44ff22" stroke-width="11" stroke-linecap="round"/></g><rect x="304" y="53" width="106.3" height="99.7" fill="none" stroke="#000" stroke-width="1.9"/><text x="307.0" y="79.6" font-size="32.00" textLength="27.6" lengthAdjust="spacingAndGlyphs" fill="#8be8d2" stroke="#8be8d2" stroke-width="0.9">2.</text>
<g transform="translate(154,152) scale(0.10667)" ><g fill="#44ff22"><ellipse cx="685" cy="220" rx="29" ry="32" transform="rotate(-20 685 220)"/><path d="M-23,0 Q-8,-28 0,-47 Q8,-28 23,0 Z" transform="translate(685 220) rotate(150)"/><ellipse cx="530" cy="485" rx="35" ry="54" transform="rotate(-10 530 485)"/><path d="M-28,0 Q-10,-47 0,-78 Q10,-47 28,0 Z" transform="translate(530 485) rotate(170)"/><ellipse cx="642" cy="440" rx="35" ry="43" transform="rotate(10 642 440)"/><path d="M-28,0 Q-10,-38 0,-63 Q10,-38 28,0 Z" transform="translate(642 440) rotate(10)"/><ellipse cx="768" cy="448" rx="36" ry="38" transform="rotate(0 768 448)"/><ellipse cx="840" cy="485" rx="38" ry="30" transform="rotate(-20 840 485)"/><ellipse cx="700" cy="490" rx="27" ry="41" transform="rotate(0 700 490)"/><ellipse cx="605" cy="580" rx="26" ry="41" transform="rotate(10 605 580)"/><path d="M-21,0 Q-7,-36 0,-60 Q7,-36 21,0 Z" transform="translate(605 580) rotate(20)"/><ellipse cx="745" cy="580" rx="27" ry="38" transform="rotate(-15 745 580)"/><ellipse cx="795" cy="568" rx="9" ry="10" transform="rotate(0 795 568)"/><ellipse cx="862" cy="645" rx="29" ry="43" transform="rotate(10 862 645)"/><path d="M-23,0 Q-8,-38 0,-63 Q8,-38 23,0 Z" transform="translate(862 645) rotate(-10)"/><ellipse cx="555" cy="685" rx="39" ry="60" transform="rotate(18 555 685)"/><path d="M-31,0 Q-11,-53 0,-88 Q11,-53 31,0 Z" transform="translate(555 685) rotate(-20)"/><ellipse cx="770" cy="705" rx="38" ry="54" transform="rotate(10 770 705)"/><path d="M-30,0 Q-11,-47 0,-78 Q11,-47 30,0 Z" transform="translate(770 705) rotate(35)"/><ellipse cx="470" cy="755" rx="35" ry="30" transform="rotate(15 470 755)"/><path d="M-24,0 Q-8,-30 0,-50 Q8,-30 24,0 Z" transform="translate(470 755) rotate(90)"/><ellipse cx="737" cy="800" rx="14" ry="17" transform="rotate(0 737 800)"/><ellipse cx="435" cy="880" rx="35" ry="30" transform="rotate(-22 435 880)"/><path d="M-24,0 Q-8,-30 0,-50 Q8,-30 24,0 Z" transform="translate(435 880) rotate(55)"/><ellipse cx="545" cy="870" rx="30" ry="45" transform="rotate(28 545 870)"/><path d="M-24,0 Q-8,-39 0,-66 Q8,-39 24,0 Z" transform="translate(545 870) rotate(30)"/><ellipse cx="945" cy="895" rx="35" ry="41" transform="rotate(0 945 895)"/><path d="M-28,0 Q-10,-36 0,-60 Q10,-36 28,0 Z" transform="translate(945 895) rotate(-45)"/><ellipse cx="340" cy="1010" rx="32" ry="28" transform="rotate(-18 340 1010)"/><path d="M-22,0 Q-8,-28 0,-47 Q8,-28 22,0 Z" transform="translate(340 1010) rotate(60)"/><ellipse cx="462" cy="980" rx="32" ry="41" transform="rotate(18 462 980)"/><path d="M-26,0 Q-9,-36 0,-60 Q9,-36 26,0 Z" transform="translate(462 980) rotate(20)"/><ellipse cx="568" cy="982" rx="30" ry="39" transform="rotate(-42 568 982)"/><path d="M-24,0 Q-8,-34 0,-56 Q8,-34 24,0 Z" transform="translate(568 982) rotate(145)"/><ellipse cx="775" cy="970" rx="29" ry="45" transform="rotate(5 775 970)"/><path d="M-23,0 Q-8,-39 0,-66 Q8,-39 23,0 Z" transform="translate(775 970) rotate(200)"/><ellipse cx="985" cy="1010" rx="43" ry="30" transform="rotate(18 985 1010)"/><path d="M-24,0 Q-8,-38 0,-63 Q8,-38 24,0 Z" transform="translate(985 1010) rotate(100)"/></g><path d="M652,395 L660,360 M545,535 C550,580 570,610 590,630 M600,540 L630,518 M540,610 L565,640 M770,640 L815,615 M835,545 C855,570 855,590 860,600 M500,770 L565,758 M480,845 C500,820 530,800 555,790 M580,820 L570,845 M725,840 C730,870 745,890 750,920 M760,890 L820,875 M895,860 L870,900 M850,995 C890,990 910,960 940,975 M490,925 L480,945 M385,950 L360,985 M275,1015 L310,1020 M530,940 L555,955 M600,1015 L630,1030 M455,1020 L460,1040 M1030,1030 L1050,1040 M435,780 L428,812 M590,780 L595,800 M860,720 L830,750 M895,740 L885,765 M770,800 L780,790" fill="none" stroke="#44ff22" stroke-width="8" stroke-linecap="round"/></g><rect x="158.8" y="159.3" width="131.7" height="107.4" fill="none" stroke="#2a2a2a" stroke-width="1.25"/><text x="162.2" y="186.5" font-size="33.30" textLength="28.3" lengthAdjust="spacingAndGlyphs" fill="#8cff8c" stroke="#8cff8c" stroke-width="0.9">1.</text>
<use href="#brain" transform="translate(310,160) scale(0.08889)"/><rect x="308.6" y="159.1" width="211.9" height="108.2" fill="none" stroke="#1a1a1a" stroke-width="1.3"/><text x="309.9" y="187.2" font-size="30.60" textLength="27.0" lengthAdjust="spacingAndGlyphs" font-weight="bold" fill="#3c9cf5">4.</text>
<use href="#brain" transform="translate(524,162.5) scale(0.08889)"/><circle cx="618.2" cy="190.3" r="1.6" fill="#ffe11f"/><circle cx="631.5" cy="191.2" r="1.6" fill="#ffe11f"/><circle cx="612.6" cy="205.8" r="1.6" fill="#ffe11f"/><circle cx="601.6" cy="210.4" r="1.6" fill="#ffe11f"/><circle cx="610.4" cy="211.1" r="1.6" fill="#ffe11f"/><circle cx="599.0" cy="219.4" r="1.6" fill="#ffe11f"/><circle cx="598.6" cy="228.2" r="1.6" fill="#ffe11f"/><circle cx="607.3" cy="234.5" r="1.6" fill="#ffe11f"/><circle cx="616.2" cy="233.2" r="1.6" fill="#ffe11f"/><circle cx="622.4" cy="238.5" r="1.6" fill="#ffe11f"/><circle cx="614.9" cy="239.5" r="1.6" fill="#ffe11f"/><circle cx="617.6" cy="245.6" r="1.6" fill="#ffe11f"/><rect x="524.2" y="161.9" width="211.6" height="105.6" fill="none" stroke="#000" stroke-width="1.8"/><text x="528.5" y="189.4" font-size="30.60" textLength="28.3" lengthAdjust="spacingAndGlyphs" font-weight="bold" fill="#ffb400">7.</text>
<use href="#brain" transform="translate(612.8,25.2) scale(0.09271)"/><g transform="translate(612.8,25.2) scale(0.09271)" fill="#4a35d8"><circle cx="953" cy="399" r="6.5"/><circle cx="858" cy="449" r="6.5"/><circle cx="852" cy="420" r="6.5"/><circle cx="995" cy="354" r="6.5"/><circle cx="991" cy="461" r="6.5"/><circle cx="915" cy="492" r="6.5"/><circle cx="1049" cy="427" r="6.5"/><circle cx="848" cy="489" r="6.5"/><circle cx="885" cy="383" r="6.5"/><circle cx="1140" cy="367" r="6.5"/><circle cx="1073" cy="405" r="6.5"/><circle cx="854" cy="370" r="6.5"/><circle cx="1089" cy="404" r="6.5"/><circle cx="1053" cy="411" r="6.5"/><circle cx="1132" cy="435" r="6.5"/><circle cx="1048" cy="442" r="6.5"/><circle cx="1107" cy="397" r="6.5"/><circle cx="875" cy="459" r="6.5"/><circle cx="888" cy="415" r="6.5"/><circle cx="1084" cy="458" r="6.5"/><circle cx="1163" cy="383" r="6.5"/><circle cx="1056" cy="433" r="6.5"/><circle cx="1149" cy="471" r="6.5"/><circle cx="1082" cy="364" r="6.5"/><circle cx="1076" cy="499" r="6.5"/><circle cx="938" cy="436" r="6.5"/><circle cx="839" cy="425" r="6.5"/><circle cx="874" cy="410" r="6.5"/><circle cx="879" cy="408" r="6.5"/><circle cx="1161" cy="348" r="6.5"/><circle cx="1039" cy="492" r="6.5"/><circle cx="1158" cy="376" r="6.5"/><circle cx="966" cy="516" r="6.5"/><circle cx="887" cy="385" r="6.5"/><circle cx="919" cy="448" r="6.5"/><circle cx="930" cy="369" r="6.5"/><circle cx="970" cy="470" r="6.5"/><circle cx="1092" cy="423" r="6.5"/><circle cx="1087" cy="367" r="6.5"/><circle cx="1126" cy="471" r="6.5"/><circle cx="979" cy="401" r="6.5"/><circle cx="1071" cy="347" r="6.5"/><circle cx="909" cy="388" r="6.5"/><circle cx="850" cy="358" r="6.5"/><circle cx="869" cy="398" r="6.5"/><circle cx="1162" cy="420" r="6.5"/><circle cx="926" cy="414" r="6.5"/><circle cx="877" cy="536" r="6.5"/><circle cx="984" cy="687" r="6.5"/><circle cx="915" cy="618" r="6.5"/><circle cx="962" cy="648" r="6.5"/><circle cx="1049" cy="629" r="6.5"/><circle cx="904" cy="771" r="6.5"/><circle cx="995" cy="626" r="6.5"/><circle cx="998" cy="605" r="6.5"/><circle cx="995" cy="776" r="6.5"/><circle cx="1055" cy="725" r="6.5"/><circle cx="947" cy="666" r="6.5"/><circle cx="930" cy="739" r="6.5"/><circle cx="996" cy="740" r="6.5"/><circle cx="959" cy="640" r="6.5"/><circle cx="1046" cy="777" r="6.5"/><circle cx="1053" cy="745" r="6.5"/><circle cx="1047" cy="733" r="6.5"/><circle cx="941" cy="693" r="6.5"/><circle cx="964" cy="605" r="6.5"/><circle cx="905" cy="650" r="6.5"/><circle cx="947" cy="725" r="6.5"/><circle cx="1072" cy="681" r="6.5"/><circle cx="1069" cy="778" r="6.5"/></g><rect x="685.3" y="58.3" width="22.3" height="20.8" fill="none" stroke="#000" stroke-width="1.4"/><rect x="605.6" y="22.8" width="389.2" height="119.4" fill="none" stroke="#000" stroke-width="1.6"/><text x="614.8" y="51.2" font-size="31.30" textLength="27.8" lengthAdjust="spacingAndGlyphs" fill="#7030a0" stroke="#7030a0" stroke-width="0.7">3.</text><g transform="translate(820,16) scale(0.13333)" ><rect x="110" y="700" width="180" height="22" fill="#ffd27a" opacity="0.85" filter="url(#blur5)"/><rect x="440" y="700" width="210" height="22" fill="#ffd27a" opacity="0.85" filter="url(#blur5)"/><path d="M127,530q10,10 0,20q-10,10 0,20q10,10 0,20q-10,10 0,20q10,10 0,20q-10,10 0,20M141,530q10,10 0,20q-10,10 0,20q10,10 0,20q-10,10 0,20q10,10 0,20q-10,10 0,20" fill="none" stroke="#cfa498" stroke-width="4.32"/><path d="M184,530q10,10 0,20q-10,10 0,20q10,10 0,20q-10,10 0,20q10,10 0,20q-10,10 0,20M198,530q10,10 0,20q-10,10 0,20q10,10 0,20q-10,10 0,20q10,10 0,20q-10,10 0,20" fill="none" stroke="#cfa498" stroke-width="4.32"/><path d="M239,530q10,10 0,20q-10,10 0,20q10,10 0,20q-10,10 0,20q10,10 0,20q-10,10 0,20M253,530q10,10 0,20q-10,10 0,20q10,10 0,20q-10,10 0,20q10,10 0,20q-10,10 0,20" fill="none" stroke="#cfa498" stroke-width="4.32"/><path d="M461,530q10,10 0,20q-10,10 0,20q10,10 0,20q-10,10 0,20q10,10 0,20q-10,10 0,20M475,530q10,10 0,20q-10,10 0,20q10,10 0,20q-10,10 0,20q10,10 0,20q-10,10 0,20" fill="none" stroke="#cfa498" stroke-width="4.32"/><path d="M517,530q10,10 0,20q-10,10 0,20q10,10 0,20q-10,10 0,20q10,10 0,20q-10,10 0,20M531,530q10,10 0,20q-10,10 0,20q10,10 0,20q-10,10 0,20q10,10 0,20q-10,10 0,20" fill="none" stroke="#cfa498" stroke-width="4.32"/><path d="M572,530q10,10 0,20q-10,10 0,20q10,10 0,20q-10,10 0,20q10,10 0,20q-10,10 0,20M586,530q10,10 0,20q-10,10 0,20q10,10 0,20q-10,10 0,20q10,10 0,20q-10,10 0,20" fill="none" stroke="#cfa498" stroke-width="4.32"/><path d="M627,530q10,10 0,20q-10,10 0,20q10,10 0,20q-10,10 0,20q10,10 0,20q-10,10 0,20M641,530q10,10 0,20q-10,10 0,20q10,10 0,20q-10,10 0,20q10,10 0,20q-10,10 0,20" fill="none" stroke="#cfa498" stroke-width="4.32"/><circle cx="128" cy="500" r="25" fill="#ffff7a" stroke="#000" stroke-width="6"/><circle cx="128" cy="500" r="11.2" fill="#ffffc8"/><circle cx="185" cy="500" r="25" fill="#ffff7a" stroke="#000" stroke-width="6"/><circle cx="185" cy="500" r="11.2" fill="#ffffc8"/><circle cx="240" cy="500" r="25" fill="#ffff7a" stroke="#000" stroke-width="6"/><circle cx="240" cy="500" r="11.2" fill="#ffffc8"/><circle cx="462" cy="500" r="25" fill="#ffff7a" stroke="#000" stroke-width="6"/><circle cx="462" cy="500" r="11.2" fill="#ffffc8"/><circle cx="518" cy="500" r="25" fill="#ffff7a" stroke="#000" stroke-width="6"/><circle cx="518" cy="500" r="11.2" fill="#ffffc8"/><circle cx="573" cy="500" r="25" fill="#ffff7a" stroke="#000" stroke-width="6"/><circle cx="573" cy="500" r="11.2" fill="#ffffc8"/><circle cx="628" cy="500" r="25" fill="#ffff7a" stroke="#000" stroke-width="6"/><circle cx="628" cy="500" r="11.2" fill="#ffffc8"/><circle cx="145" cy="672" r="25" fill="#ffff7a" stroke="#000" stroke-width="6"/><circle cx="145" cy="672" r="11.2" fill="#ffffc8"/><circle cx="198" cy="672" r="25" fill="#ffff7a" stroke="#000" stroke-width="6"/><circle cx="198" cy="672" r="11.2" fill="#ffffc8"/><circle cx="250" cy="672" r="25" fill="#ffff7a" stroke="#000" stroke-width="6"/><circle cx="250" cy="672" r="11.2" fill="#ffffc8"/><circle cx="455" cy="672" r="25" fill="#ffff7a" stroke="#000" stroke-width="6"/><circle cx="455" cy="672" r="11.2" fill="#ffffc8"/><circle cx="510" cy="672" r="25" fill="#ffff7a" stroke="#000" stroke-width="6"/><circle cx="510" cy="672" r="11.2" fill="#ffffc8"/><circle cx="565" cy="672" r="25" fill="#ffff7a" stroke="#000" stroke-width="6"/><circle cx="565" cy="672" r="11.2" fill="#ffffc8"/><circle cx="618" cy="672" r="25" fill="#ffff7a" stroke="#000" stroke-width="6"/><circle cx="618" cy="672" r="11.2" fill="#ffffc8"/><path d="M360,850 C320,820 280,780 268,735 C262,700 290,660 285,610 C282,560 275,500 258,468 C235,430 175,400 158,350 C145,300 175,250 225,200 C255,172 285,165 300,178 C305,200 270,240 245,280 C230,305 225,325 250,340 C290,360 315,400 322,450 C328,520 318,600 332,690 C340,750 355,800 360,822 C365,790 380,720 395,650 C402,590 400,520 408,470 C415,420 445,370 490,318 C470,290 440,250 425,200 C418,170 435,158 462,165 C500,185 540,250 555,310 C560,360 530,400 495,425 C465,455 445,500 440,550 C435,610 440,660 458,710 C465,750 440,790 400,830 C385,842 372,850 360,850 Z" fill="#6a2cf5" stroke="#000" stroke-width="6" stroke-linejoin="round"/><path d="M360,820 C340,700 330,620 325,520 C322,470 318,430 300,395 M360,820 C380,700 400,600 405,500" fill="none" stroke="#000" stroke-width="0"/><path d="M382,295 Q377,379 386,462 M428,228 Q372,345 363,462 M425,236 Q367,300 363,365 M374,226 Q386,298 345,369 M404,240 Q371,295 386,349 M305,225 Q351,292 391,359 M437,308 Q367,386 350,465 M390,244 Q388,336 396,427 M424,253 Q347,303 355,353 M295,254 Q374,292 372,330 M337,254 Q356,326 387,397 M360,292 Q341,379 334,467 M401,305 Q358,373 331,440 M375,226 Q388,291 333,355 M315,297 Q357,379 395,462 M340,275 Q377,310 384,345 M350,215 L365,260 L380,220 M275,270 C290,250 310,255 320,280 M440,275 C425,255 405,260 400,285 M330,440 C340,470 380,470 395,440" fill="none" stroke="#15154a" stroke-width="4" stroke-linecap="round"/></g><rect x="829.3" y="35" width="83.4" height="98.6" fill="none" stroke="#000" stroke-width="1.6"/><line x1="873.3" y1="48.4" x2="927.5" y2="48.4" stroke="#000" stroke-width="1.3"/><line x1="885.3" y1="69" x2="939.5" y2="69" stroke="#000" stroke-width="1.3"/><text x="936.0" y="52.7" font-size="17.80" textLength="39.6" lengthAdjust="spacingAndGlyphs" fill="#000">NGF</text><text x="944.4" y="75.0" font-size="17.80" textLength="40.6" lengthAdjust="spacingAndGlyphs" fill="#000">TrkA</text>
<g transform="translate(870,156) scale(0.08889)" ><rect x="215" y="895" width="100" height="28" fill="#ffd27a" opacity="0.85" filter="url(#blur5)"/><rect x="930" y="895" width="120" height="28" fill="#ffd27a" opacity="0.85" filter="url(#blur5)"/><path d="M234,630q14,16 0,32q-14,16 0,32q14,16 0,32q-14,16 0,32q14,16 0,32q-14,16 0,32M256,630q14,16 0,32q-14,16 0,32q14,16 0,32q-14,16 0,32q14,16 0,32q-14,16 0,32" fill="none" stroke="#cfa498" stroke-width="6.75"/><path d="M1004,630q14,16 0,32q-14,16 0,32q14,16 0,32q-14,16 0,32q14,16 0,32q-14,16 0,32M1026,630q14,16 0,32q-14,16 0,32q14,16 0,32q-14,16 0,32q14,16 0,32q-14,16 0,32" fill="none" stroke="#cfa498" stroke-width="6.75"/><path d="M939,630q14,16 0,32q-14,16 0,32q14,16 0,32q-14,16 0,32q14,16 0,32q-14,16 0,32M961,630q14,16 0,32q-14,16 0,32q14,16 0,32q-14,16 0,32q14,16 0,32q-14,16 0,32" fill="none" stroke="#cfa498" stroke-width="6.75"/><circle cx="240" cy="590" r="36" fill="#ffff7a" stroke="#000" stroke-width="9"/><circle cx="240" cy="590" r="16.2" fill="#ffffc8"/><circle cx="310" cy="590" r="36" fill="#ffff7a" stroke="#000" stroke-width="9"/><circle cx="310" cy="590" r="16.2" fill="#ffffc8"/><circle cx="945" cy="590" r="36" fill="#ffff7a" stroke="#000" stroke-width="9"/><circle cx="945" cy="590" r="16.2" fill="#ffffc8"/><circle cx="1020" cy="590" r="36" fill="#ffff7a" stroke="#000" stroke-width="9"/><circle cx="1020" cy="590" r="16.2" fill="#ffffc8"/><circle cx="265" cy="860" r="36" fill="#ffff7a" stroke="#000" stroke-width="9"/><circle cx="265" cy="860" r="16.2" fill="#ffffc8"/><circle cx="790" cy="860" r="36" fill="#ffff7a" stroke="#000" stroke-width="9"/><circle cx="790" cy="860" r="16.2" fill="#ffffc8"/><circle cx="950" cy="860" r="36" fill="#ffff7a" stroke="#000" stroke-width="9"/><circle cx="950" cy="860" r="16.2" fill="#ffffc8"/><circle cx="1005" cy="860" r="36" fill="#ffff7a" stroke="#000" stroke-width="9"/><circle cx="1005" cy="860" r="16.2" fill="#ffffc8"/><path d="M380,1040 C340,1070 370,1130 420,1140 C450,1120 470,1090 490,1110 C500,1140 520,1130 540,1125 C560,1150 590,1165 620,1140 C650,1120 680,1130 710,1160 C760,1170 800,1110 790,1060 C800,1000 820,960 790,940 L520,960 Z" fill="#fff" stroke="#000" stroke-width="11" stroke-linejoin="round"/><path d="M520,1080 C500,1100 520,1130 560,1120 C590,1100 610,1090 640,1090 L600,1050 Z" fill="#fff" stroke="#000" stroke-width="11" stroke-linejoin="round"/><path d="M820,980 C840,1010 810,1040 830,1060 C815,1085 840,1100 860,1070 C850,1040 880,1020 870,990" fill="#fff" stroke="#000" stroke-width="10"/><path d="M520,380 C500,330 500,290 540,285 C600,295 680,280 715,275 C740,285 720,305 690,300 C660,300 640,310 630,330 L620,380 M740,440 C720,380 760,330 820,330 C860,335 870,370 870,395 M1085,1020 C1110,1015 1120,1000 1125,980 C1130,950 1155,940 1175,965" fill="none" stroke="#000" stroke-width="10.5" stroke-linecap="round"/><rect x="461" y="342" width="118" height="135" rx="22" transform="rotate(8 520 410)" fill="#ff0a00" stroke="#000" stroke-width="11" stroke-linejoin="round"/><rect x="582" y="378" width="105" height="125" rx="22" transform="rotate(-8 635 440)" fill="#ff0a00" stroke="#000" stroke-width="11" stroke-linejoin="round"/><rect x="455" y="445" width="130" height="80" rx="22" transform="rotate(-5 520 485)" fill="#ff0a00" stroke="#000" stroke-width="11" stroke-linejoin="round"/><rect x="585" y="465" width="110" height="70" rx="22" transform="rotate(8 640 500)" fill="#ff0a00" stroke="#000" stroke-width="11" stroke-linejoin="round"/><rect x="600" y="485" width="100" height="230" rx="22" transform="rotate(20 650 600)" fill="#ff0a00" stroke="#000" stroke-width="11" stroke-linejoin="round"/><rect x="316" y="400" width="118" height="590" rx="22" transform="rotate(-1 375 695)" fill="#ff0a00" stroke="#000" stroke-width="11" stroke-linejoin="round"/><rect x="466" y="495" width="118" height="560" rx="22" transform="rotate(26 525 775)" fill="#ff0a00" stroke="#000" stroke-width="11" stroke-linejoin="round"/><rect x="676" y="435" width="118" height="590" rx="22" transform="rotate(3 735 730)" fill="#ff0a00" stroke="#000" stroke-width="11" stroke-linejoin="round"/><rect x="506" y="515" width="118" height="580" rx="22" transform="rotate(-11 565 805)" fill="#ff0a00" stroke="#000" stroke-width="11" stroke-linejoin="round"/><rect x="819" y="390" width="112" height="590" rx="22" transform="rotate(0 875 685)" fill="#ff0a00" stroke="#000" stroke-width="11" stroke-linejoin="round"/><rect x="875" y="979" width="210" height="112" rx="22" transform="rotate(-6 980 1035)" fill="#ff0a00" stroke="#000" stroke-width="11" stroke-linejoin="round"/></g><rect x="877.1" y="163.9" width="106.9" height="99.3" fill="none" stroke="#000" stroke-width="2"/><text x="878.6" y="189.2" font-size="31.50" textLength="27.3" lengthAdjust="spacingAndGlyphs" fill="#f28fc0" stroke="#f28fc0" stroke-width="0.9">6.</text>
<g transform="translate(40,540) scale(0.20000)" fill="none" stroke="#111" stroke-width="5.5" stroke-linecap="round" stroke-linejoin="round"><path d="M85,160 C85,120 120,85 150,65 C175,55 215,75 235,105 C245,125 240,145 215,160 C240,175 245,205 235,225 C225,245 200,255 175,250 C140,245 110,215 95,190 C88,178 85,170 85,160 Z M140,155 C160,160 175,160 185,158 C195,165 205,165 215,160 M150,180 C165,180 180,175 190,165 M190,205 C195,190 205,180 215,172 M185,158 C190,170 190,180 185,185 M645,163 C700,158 780,160 830,150 C850,120 870,90 905,72 C950,70 1000,95 1040,112 C1080,108 1130,115 1165,140 C1195,165 1205,210 1205,255 C1200,285 1175,292 1150,280 C1120,265 1090,250 1060,238 M645,168 C700,175 790,178 835,165 C850,180 860,200 875,220 C885,235 900,240 915,238 C930,240 935,250 925,258 C910,258 895,250 885,240 M900,215 C930,215 960,205 990,210 C1010,230 1020,255 1040,272 C1060,285 1075,295 1095,298 C1105,305 1100,315 1085,312 C1065,305 1050,290 1035,275 M1060,238 C1050,255 1045,265 1050,280 M1195,190 L1238,198 L1232,212 L1200,208 M1040,115 C1030,140 1030,170 1045,200 M1020,120 C1010,140 1005,160 1010,180 M995,175 C992,190 995,200 1000,210 M1010,185 C1015,195 1020,205 1030,210 M1090,175 C1070,175 1060,190 1065,200 C1075,212 1090,208 1095,200 M1080,188 C1076,190 1076,196 1082,196 M1120,215 C1135,228 1150,235 1165,238 M1130,262 C1150,275 1175,285 1195,280"/><ellipse cx="195" cy="128" rx="11" ry="9" fill="#222" stroke="none"/></g>
<g transform="translate(430,535) scale(0.10370)" fill="none" stroke="#111" stroke-width="10" stroke-linecap="round" stroke-linejoin="round"><path d="M1140,290 C1135,235 1085,200 1000,165 C950,143 900,125 850,130 C800,132 750,155 710,175 C660,150 600,150 560,165 C480,190 420,260 390,340 C350,370 335,420 345,480 C350,520 400,550 450,560 M590,170 C570,220 620,300 720,310 M615,170 C650,163 700,175 722,205 M605,200 C610,250 660,295 725,297 M690,215 C683,240 692,265 705,277 M822,130 C828,100 845,78 860,72 C876,85 890,105 893,125 M1075,265 C1090,282 1110,282 1125,270 M1140,290 C1132,330 1080,372 1000,386 C960,395 930,392 915,380 M995,345 C1030,362 1080,356 1112,335 M940,400 C920,430 912,450 930,465 C960,485 1000,466 1030,460 C1060,463 1082,480 1076,500 C1062,508 1052,500 1048,510 C1040,520 1025,520 1018,508 C1010,510 1000,505 995,498 C950,520 880,540 830,545 M915,410 C880,460 840,520 780,570 M740,545 C770,600 800,650 830,680 C860,688 882,705 872,725 C860,735 850,725 842,732 C830,742 815,735 812,728 C800,740 785,735 780,722 C770,690 750,660 720,640 C680,610 600,570 565,540 M565,540 C575,575 598,595 590,600 C550,602 510,596 490,585 M450,540 C470,570 492,580 482,600 C465,620 472,650 452,652 C440,640 447,620 432,615 C412,640 402,660 386,660 C365,650 355,620 370,590 C390,570 420,565 445,568 M385,600 L410,625 M375,625 L395,648 M400,590 L425,612 M345,497 C250,510 150,560 115,650 C100,720 150,760 105,810 C110,832 140,826 165,790 C195,740 140,700 160,650 C190,580 300,540 400,545"/><ellipse cx="912" cy="250" rx="38" ry="27" fill="#000" stroke="none"/></g>
<g transform="translate(630,485) scale(0.13333)" fill="none" stroke="#111" stroke-width="8" stroke-linecap="round" stroke-linejoin="round"><path d="M1085,100 C1060,78 1040,85 1000,105 C930,140 870,180 830,215 C815,260 822,330 810,390 C760,440 680,520 655,620 C640,720 640,760 600,850 C580,890 580,920 580,945 M1085,100 C1096,120 1086,140 1080,150 C1090,200 1096,250 1095,290 M825,245 C790,245 760,265 740,290 C770,310 800,317 812,310 M925,270 C880,280 858,330 885,372 C920,388 960,360 976,320 M935,285 C912,300 902,330 922,350 M940,300 C945,315 955,320 962,318 M1095,295 C1120,293 1132,320 1122,345 C1110,352 1108,340 1100,345 C1092,355 1080,348 1066,346 C1050,330 1060,310 1080,300 M1060,345 C1064,380 1075,410 1086,420 C1110,410 1150,395 1180,405 C1197,420 1176,445 1156,452 C1140,440 1125,440 1110,450 C1090,470 1075,490 1066,520 C1050,547 1020,556 1005,540 M1045,550 C1025,620 1005,700 1010,780 C1005,860 970,930 925,975 M910,825 C916,880 890,940 850,980 C820,1000 790,1010 770,1025 M925,975 C960,970 1010,970 1040,985 C1062,1000 1062,1020 1046,1026 C1020,1015 990,1010 960,1010 C920,1020 880,1032 850,1020 M1000,990 L1035,1005 M770,1025 C760,1050 790,1060 830,1060 C870,1065 900,1075 930,1085 C946,1100 926,1122 910,1116 C880,1100 820,1095 770,1095 C730,1095 700,1085 690,1070 C700,1050 680,1040 660,1030 C650,1010 640,1000 625,990 M900,1085 L920,1105 M580,945 C480,1010 350,1070 230,1085 C170,1090 125,1085 125,1065 C130,1045 160,1040 190,1040 M625,990 C520,1050 380,1100 250,1115 C170,1125 110,1110 105,1075 C105,1045 150,1030 190,1035"/><path d="M1090,170 L1140,196 M1098,200 L1130,246 M1085,150 L1110,185 M940,110 L1000,90 M985,78 L1030,95" stroke="#555" stroke-width="4"/><ellipse cx="1008" cy="190" rx="18" ry="29" transform="rotate(15 1008 190)" fill="#000" stroke="none"/></g>
<g transform="translate(880,510) scale(0.16297)" fill="none" stroke="#111" stroke-width="6.5" stroke-linecap="round" stroke-linejoin="round"><path d="M1265,215 C1250,190 1200,165 1130,145 C1090,132 1060,128 1040,130 M965,160 C940,140 900,122 850,125 M850,180 C800,176 780,165 760,150 C700,100 640,75 570,75 C500,80 440,110 420,160 C380,220 320,270 305,350 C295,420 320,500 360,550 C390,590 410,610 415,620 M750,195 C780,185 800,178 850,180 M960,145 C960,125 965,105 970,97 C1000,100 1040,115 1055,128 M845,130 C850,180 860,230 900,262 C930,275 950,260 955,235 C950,200 960,180 965,160 C940,135 890,120 845,130 M880,160 C885,190 895,215 915,235 M905,165 C900,180 902,195 910,205 M935,185 C930,200 935,215 940,225 M1210,225 C1225,240 1250,238 1262,225 M1265,215 C1270,250 1255,280 1240,290 M1245,285 C1220,302 1180,310 1150,305 M1240,290 C1220,320 1170,340 1130,346 C1100,355 1070,375 1045,378 M1075,380 C1030,440 990,500 990,550 C1000,600 1030,630 1050,645 C1075,655 1086,680 1070,700 C1050,692 1020,690 1000,670 C970,630 940,590 890,575 M1050,660 L1070,685 M940,525 C920,560 850,580 790,580 C770,590 750,620 735,650 M790,540 C780,580 750,620 735,650 C745,670 775,680 790,690 C790,710 770,730 745,745 C725,735 720,710 705,700 C680,670 660,630 650,590 C630,550 620,520 620,500 M745,700 L760,725 M765,690 L778,712 M612,410 C600,430 600,460 615,475 M460,400 C440,450 440,520 475,560 M455,595 C500,640 580,665 660,650 M415,620 C405,640 400,655 405,660 C450,670 500,680 540,690 C560,710 580,716 590,700 C585,680 570,665 555,655 M545,665 L572,700 M535,672 L560,705 M305,432 C200,480 80,520 60,620 C60,720 150,770 300,780 C450,790 600,770 730,780 C700,760 600,745 450,750 C300,760 160,740 135,650 C130,570 230,525 330,520"/><path d="M1070,300 L1180,240 M1100,320 L1170,265 M1135,330 L1165,290 M1230,180 L1260,155 M1270,205 L1295,195 M1275,245 L1305,248" stroke="#888" stroke-width="4"/><ellipse cx="1070" cy="200" rx="32" ry="20" transform="rotate(-12 1070 200)" fill="#000" stroke="none"/></g>
<rect x="1128" y="3.6" width="218.4" height="640.6" fill="none" stroke="#000" stroke-width="2.9"/>
<text x="1134.6" y="25.5" font-size="16.20" textLength="194.9" lengthAdjust="spacingAndGlyphs" font-weight="bold" fill="#00ff00">1. Active/developmental</text>
<text x="1134.6" y="48.0" font-size="16.20" textLength="151.4" lengthAdjust="spacingAndGlyphs" font-weight="bold" fill="#00ff00">population of basal</text>
<text x="1134.6" y="70.2" font-size="16.20" textLength="202.9" lengthAdjust="spacingAndGlyphs" font-weight="bold" fill="#00ff00">forebrain with cholinergic</text>
<text x="1134.6" y="92.8" font-size="16.20" textLength="65.4" lengthAdjust="spacingAndGlyphs" font-weight="bold" fill="#00ff00">neurons</text>
<text x="1131.2" y="149.0" font-size="16.20" textLength="190.6" lengthAdjust="spacingAndGlyphs" font-weight="bold" fill="#00de96">2. Cholinergic somal size</text>
<text x="1131.2" y="170.9" font-size="16.20" textLength="175.3" lengthAdjust="spacingAndGlyphs" font-weight="bold" fill="#00de96">&amp; basal forebrain TrkA</text>
<text x="1131.2" y="227.4" font-size="16.20" textLength="164.2" lengthAdjust="spacingAndGlyphs" font-weight="bold" fill="#7030a0">3. Hippocampal TrkA</text>
<text x="1132.2" y="249.8" font-size="16.20" textLength="84.9" lengthAdjust="spacingAndGlyphs" font-weight="bold" fill="#7030a0">expression</text>
<text x="1133.4" y="305.7" font-size="16.20" textLength="197.3" lengthAdjust="spacingAndGlyphs" font-weight="bold" fill="#2e8fff">4. Active/developmental</text>
<text x="1135.6" y="328.2" font-size="16.20" textLength="181.5" lengthAdjust="spacingAndGlyphs" font-weight="bold" fill="#2e8fff">cholinergic innervation</text>
<text x="1135.6" y="350.4" font-size="16.20" textLength="153.5" lengthAdjust="spacingAndGlyphs" font-weight="bold" fill="#2e8fff">of the hippocampal</text>
<text x="1135.6" y="373.9" font-size="16.20" textLength="78.9" lengthAdjust="spacingAndGlyphs" font-weight="bold" fill="#2e8fff">formation</text>
<text x="1131.6" y="429.2" font-size="16.80" textLength="208.6" lengthAdjust="spacingAndGlyphs" fill="#c5b9e3" stroke="#c5b9e3" stroke-width="0.45">5. nAChRα7 expression in</text>
<text x="1132.4" y="452.7" font-size="16.80" textLength="138.8" lengthAdjust="spacingAndGlyphs" fill="#c5b9e3" stroke="#c5b9e3" stroke-width="0.45">the hippocampus</text>
<text x="1131.1" y="509.5" font-size="16.80" textLength="125.1" lengthAdjust="spacingAndGlyphs" fill="#e77ab0" stroke="#e77ab0" stroke-width="0.45">6. Hippocampal</text>
<text x="1132.4" y="533.2" font-size="16.80" textLength="159.3" lengthAdjust="spacingAndGlyphs" fill="#e77ab0" stroke="#e77ab0" stroke-width="0.45">muscarinic receptor</text>
<text x="1132.1" y="556.7" font-size="16.80" textLength="85.5" lengthAdjust="spacingAndGlyphs" fill="#e77ab0" stroke="#e77ab0" stroke-width="0.45">expression</text>
<text x="1132.9" y="609.5" font-size="16.20" textLength="167.6" lengthAdjust="spacingAndGlyphs" font-weight="bold" fill="#ffb900">7. Hippocampal AChE</text>
<text x="1132.5" y="631.6" font-size="16.20" textLength="57.3" lengthAdjust="spacingAndGlyphs" font-weight="bold" fill="#ffb900">activity</text>
<text x="1118.3" y="710.2" font-size="16.20" textLength="14.0" lengthAdjust="spacingAndGlyphs" font-weight="bold" fill="#00ff00">1.</text>
<text x="1136.9" y="710.2" font-size="16.20" textLength="175.9" lengthAdjust="spacingAndGlyphs" font-weight="bold" fill="#00ff00">Active/developmental</text>
<text x="1135.6" y="732.8" font-size="16.20" textLength="151.3" lengthAdjust="spacingAndGlyphs" font-weight="bold" fill="#00ff00">population of basal</text>
<text x="1135.6" y="755.6" font-size="16.20" textLength="203.2" lengthAdjust="spacingAndGlyphs" font-weight="bold" fill="#00ff00">forebrain with cholinergic</text>
<text x="1135.6" y="778.1" font-size="16.20" textLength="65.8" lengthAdjust="spacingAndGlyphs" font-weight="bold" fill="#00ff00">neurons</text>
<text x="1115.2" y="834.0" font-size="16.20" textLength="15.1" lengthAdjust="spacingAndGlyphs" font-weight="bold" fill="#00de96">2.</text>
<text x="1132.2" y="834.0" font-size="16.20" textLength="172.3" lengthAdjust="spacingAndGlyphs" font-weight="bold" fill="#00de96">Cholinergic somal size</text>
<text x="1132.6" y="856.9" font-size="16.20" textLength="175.6" lengthAdjust="spacingAndGlyphs" font-weight="bold" fill="#00de96">&amp; basal forebrain TrkA</text>
<text x="1110.9" y="979.6" font-size="16.20" textLength="16.4" lengthAdjust="spacingAndGlyphs" font-weight="bold" fill="#7030a0">3.</text>
<text x="1130.8" y="979.6" font-size="16.20" textLength="144.0" lengthAdjust="spacingAndGlyphs" font-weight="bold" fill="#7030a0">Hippocampal TrkA</text>
<text x="1130.8" y="1002.4" font-size="16.20" textLength="84.3" lengthAdjust="spacingAndGlyphs" font-weight="bold" fill="#7030a0">expression</text>
<text x="1109.6" y="1057.8" font-size="16.20" textLength="17.7" lengthAdjust="spacingAndGlyphs" font-weight="bold" fill="#2e8fff">4.</text>
<text x="1131.3" y="1057.8" font-size="16.20" textLength="176.0" lengthAdjust="spacingAndGlyphs" font-weight="bold" fill="#2e8fff">Active/developmental</text>
<text x="1130.9" y="1080.6" font-size="16.20" textLength="180.9" lengthAdjust="spacingAndGlyphs" font-weight="bold" fill="#2e8fff">cholinergic innervation</text>
<text x="1130.9" y="1103.0" font-size="16.20" textLength="153.2" lengthAdjust="spacingAndGlyphs" font-weight="bold" fill="#2e8fff">of the hippocampal</text>
<text x="1130.9" y="1126.0" font-size="16.20" textLength="78.6" lengthAdjust="spacingAndGlyphs" font-weight="bold" fill="#2e8fff">formation</text>
<text x="1110.8" y="1281.9" font-size="16.80" textLength="16.5" lengthAdjust="spacingAndGlyphs" fill="#c5b9e3" stroke="#c5b9e3" stroke-width="0.45">5.</text>
<text x="1131.8" y="1281.9" font-size="16.80" textLength="188.0" lengthAdjust="spacingAndGlyphs" fill="#c5b9e3" stroke="#c5b9e3" stroke-width="0.45">nAChRα7 expression in</text>
<text x="1133.6" y="1305.6" font-size="16.80" textLength="138.9" lengthAdjust="spacingAndGlyphs" fill="#c5b9e3" stroke="#c5b9e3" stroke-width="0.45">the hippocampus</text>
<text x="1110.3" y="1360.6" font-size="16.80" textLength="16.5" lengthAdjust="spacingAndGlyphs" fill="#e77ab0" stroke="#e77ab0" stroke-width="0.45">6.</text>
<text x="1132.1" y="1360.6" font-size="16.80" textLength="104.7" lengthAdjust="spacingAndGlyphs" fill="#e77ab0" stroke="#e77ab0" stroke-width="0.45">Hippocampal</text>
<text x="1131.6" y="1384.8" font-size="16.80" textLength="159.0" lengthAdjust="spacingAndGlyphs" fill="#e77ab0" stroke="#e77ab0" stroke-width="0.45">muscarinic receptor</text>
<text x="1131.2" y="1408.7" font-size="16.80" textLength="85.3" lengthAdjust="spacingAndGlyphs" fill="#e77ab0" stroke="#e77ab0" stroke-width="0.45">expression</text>
<text x="1110.9" y="1586.3" font-size="16.20" textLength="14.4" lengthAdjust="spacingAndGlyphs" font-weight="bold" fill="#ffb900">7.</text>
<text x="1129.5" y="1586.3" font-size="16.20" textLength="149.6" lengthAdjust="spacingAndGlyphs" font-weight="bold" fill="#ffb900">Hippocampal AChE</text>
<text x="1129.5" y="1609.4" font-size="16.20" textLength="57.8" lengthAdjust="spacingAndGlyphs" font-weight="bold" fill="#ffb900">activity</text>
</svg></body></html>
